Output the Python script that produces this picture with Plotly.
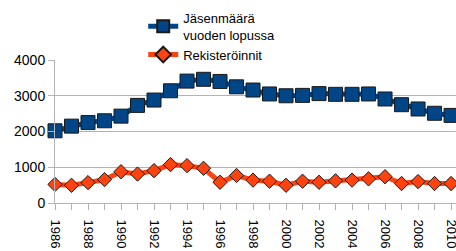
import plotly.graph_objects as go

years = list(range(1986, 2011))
members = [2020, 2150, 2250, 2300, 2430, 2730, 2880, 3140, 3410, 3460, 3400, 3250, 3160,
           3050, 3000, 3010, 3060, 3040, 3040, 3050, 2910, 2750, 2630, 2510, 2450]
registrations = [520, 495, 570, 655, 875, 810, 905, 1075, 1045, 970, 580, 770, 640,
                 610, 495, 610, 580, 620, 640, 675, 735, 545, 600, 545, 545]
name_members = "Jäsenmäärä<br>vuoden lopussa"
name_reg = "Rekisteröinnit"

fig = go.Figure()
fig.add_trace(go.Scatter(
    x=years, y=members, name=name_members, mode="lines+markers", legendgroup="a",
    line=dict(color="#004586", width=5),
    marker=dict(symbol="square", size=14, color="#004586", line=dict(color="#1a1a1a", width=1)),
    cliponaxis=False,
))
fig.add_trace(go.Scatter(
    x=years, y=registrations, name=name_reg, mode="lines+markers", legendgroup="b",
    line=dict(color="#ff420e", width=5),
    marker=dict(symbol="diamond", size=11, color="#ff420e", line=dict(color="#1a1a1a", width=1)),
    cliponaxis=False,
))

fig.update_layout(
    width=456, height=251,
    margin=dict(l=55, r=0, t=60, b=48, autoexpand=False),
    paper_bgcolor="white", plot_bgcolor="white",
    font=dict(family="Liberation Sans, Arial, sans-serif", color="#000000"),
    showlegend=True,
    legend=dict(x=0.22, y=1.40, xanchor="left", yanchor="top",
                font=dict(size=13), bgcolor="rgba(0,0,0,0)",
                itemwidth=30, tracegroupgap=0, itemsizing="constant"),
)
fig.update_xaxes(
    range=[1986, 2010.3], dtick=2, tick0=1986, tickangle=90, automargin=False,
    ticks="outside", ticklen=6, tickcolor="#b3b3b3", ticklabeloverflow="allow",
    ticklabelstandoff=7,
    showline=True, linecolor="#b3b3b3", showgrid=False, zeroline=False,
    tickfont=dict(size=13),
    minor=dict(dtick=1, ticks="outside", ticklen=6, tickcolor="#b3b3b3", showgrid=False),
)
fig.update_yaxes(
    range=[0, 4000], dtick=1000, ticks="outside", ticklen=6, tickcolor="#b3b3b3",
    automargin=False,
    showline=True, linecolor="#b3b3b3", showgrid=True, gridcolor="#b3b3b3",
    zeroline=False, tickfont=dict(size=14),
)

fig.write_html("out.html", config={"displayModeBar": False},
               post_script="document.body.style.margin='0';document.body.style.overflow='hidden';")
